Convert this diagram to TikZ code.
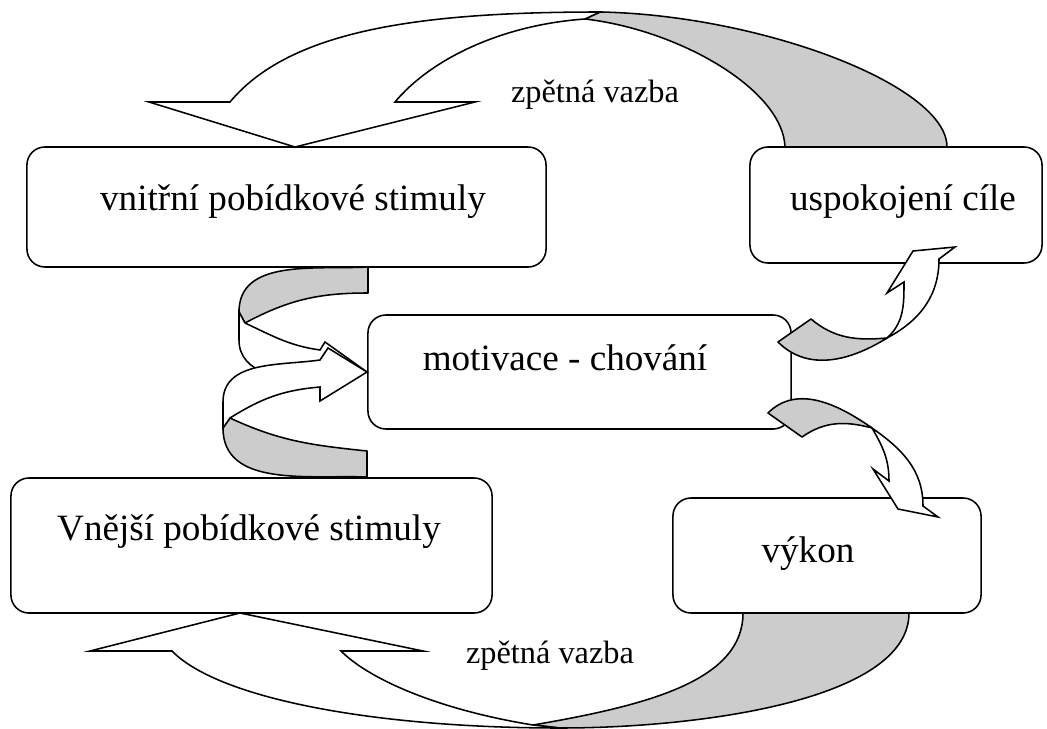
\documentclass[tikz,border=0pt]{standalone}
\usepackage{fontspec}
\setmainfont{Liberation Serif}

\begin{document}
\begin{tikzpicture}
[x=0.025cm,y=0.025cm,line width=1.1pt,
box/.style={draw,rounded corners=0.45cm,fill=white,inner sep=0pt},
back/.style={draw,fill=gray!40,line join=round},
front/.style={draw,fill=white,line join=miter},
txt/.style={anchor=base,inner sep=0pt,font=\fontsize{26.4}{30}\selectfont},
lbl/.style={anchor=base,inner sep=0pt,font=\fontsize{23}{27}\selectfont},]

\useasboundingbox (0,0) rectangle (1047,-729);

%Boxes
\node (vnitrni) at (286.5,-207) [box,minimum width=12.975cm,minimum height=3cm] {};
\node (cile) at (896,-205) [box,minimum width=7.3cm,minimum height=2.9cm] {};
\node (motivace) at (579.5,-372) [box,minimum width=10.575cm,minimum height=2.85cm] {};
\node (vnejsi) at (251.5,-545.5) [box,minimum width=12.025cm,minimum height=3.375cm] {};
\node (vykon) at (827,-555.5) [box,minimum width=7.7cm,minimum height=2.875cm] {};

%Box texts
\node (tvnitrni) at (293,-210) [txt] {vnitřní pobídkové stimuly};
\node (tcile) at (903,-210) [txt] {uspokojení cíle};
\node (tmotivace) at (565,-370) [txt] {motivace - chování};
\node (tvnejsi) at (249,-540) [txt] {Vnější pobídkové stimuly};
\node (tvykon) at (808,-562) [txt] {výkon};

%Top feedback arrow
\draw[back] (600,-12) .. controls (760,-15) and (947,-85) .. (947,-147) -- (785,-147)
  .. controls (783,-90) and (680,-30) .. (585,-19) -- cycle;
\draw[front] (585,-19) .. controls (500,-25) and (430,-60) .. (395,-102) -- (475,-102)
  -- (295,-147) -- (149,-102) -- (230,-102) .. controls (290,-30) and (420,-12) .. (600,-12) -- cycle;
\node (ztop) at (595,-103) [lbl] {zpětná vazba};

%Bottom feedback arrow
\draw[back] (533,-725) .. controls (650,-705) and (743,-680) .. (743,-613) -- (909,-613)
  .. controls (909,-700) and (700,-728) .. (560,-728) -- cycle;
\draw[front] (533,-725) .. controls (440,-710) and (370,-680) .. (341,-651) -- (423,-651)
  -- (240,-613) -- (90,-651) -- (172,-651) .. controls (220,-700) and (380,-728) .. (560,-728) -- cycle;
\node (zbottom) at (550,-663) [lbl] {zpětná vazba};

%Upper spiral arrow
\draw[back] (368,-267) to[out=183,in=90] (239,-312) -- (245,-323) to[out=28,in=180] (368,-293) -- cycle;
\draw[front] (239,-312) -- (239,-340) to[out=-90,in=185] (320,-378) -- (367,-372) -- (325,-342)
  -- (320,-350) to[out=172,in=-25] (245,-323) -- cycle;

%Lower spiral arrow
\draw[back] (367,-451) to[out=174,in=-25] (230,-418) -- (223,-428) to[out=-90,in=178] (367,-477) -- cycle;
\draw[front] (223,-428) -- (223,-402) to[out=90,in=188] (320,-360) -- (328,-348) -- (367,-372)
  -- (320,-401) -- (320,-387) to[out=185,in=32] (230,-418) -- cycle;

%Arrow to uspokojeni cile
\draw[back] (778,-342) -- (811,-319) to[out=-40,in=185] (887,-338) to[out=212,in=-45] cycle;
\draw[front] (887,-338) to[out=42,in=-90] (904,-282) -- (887,-293) -- (913,-251) -- (955,-247)
  -- (939,-259) to[out=-90,in=28] (887,-338) -- cycle;

%Arrow to vykon
\draw[back] (768,-413) to[out=45,in=145] (872,-428) to[out=165,in=35] (802,-437) -- cycle;
\draw[front] (872,-428) to[out=-35,in=90] (923,-506) -- (938,-517) -- (898,-509) -- (873,-469)
  -- (889,-481) to[out=90,in=-60] (872,-428) -- cycle;

\end{tikzpicture}
\end{document}
